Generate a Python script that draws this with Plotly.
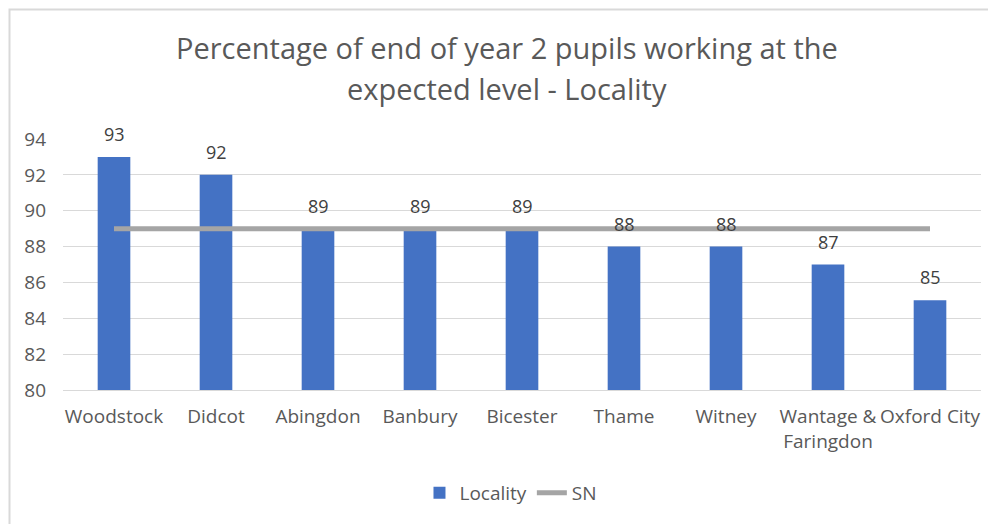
import plotly.graph_objects as go

categories = ["Woodstock", "Didcot", "Abingdon", "Banbury", "Bicester", "Thame", "Witney", "Wantage &<br>Faringdon", "Oxford City"]
locality = [93, 92, 89, 89, 89, 88, 88, 87, 85]
sn = [89, 89, 89, 89, 89, 89, 89, 89, 89]
y_ticks = [80, 82, 84, 86, 88, 90, 92, 94]

FONT = "Open Sans"
GREY_TXT = "#595959"

fig = go.Figure()
fig.add_trace(go.Bar(
    x=categories, y=locality, name="Locality",
    marker=dict(color="#4472c4", line=dict(width=0)),
))
fig.add_trace(go.Scatter(
    x=categories, y=sn, name="SN", mode="lines",
    line=dict(color="#a5a5a5", width=5),
))

label_annotations = [
    dict(x=c, y=v, xref="x", yref="y", text=str(v), showarrow=False,
         yshift=23, xanchor="center", yanchor="middle",
         font=dict(family=FONT, size=18, color="#404040"))
    for c, v in zip(categories, locality)
]

# page has an 8px body margin; compensate so the plot lands where the reference has it
fig.update_layout(
    width=996, height=524, autosize=False,
    paper_bgcolor="white", plot_bgcolor="white",
    margin=dict(l=55, r=23, t=131, b=142, autoexpand=False),
    bargap=0.68,
    font=dict(family=FONT, color=GREY_TXT),
    showlegend=True,
    legend=dict(orientation="h", x=0.488, xanchor="center", y=-0.41, yanchor="middle",
                font=dict(family=FONT, size=19, color=GREY_TXT), traceorder="normal",
                itemwidth=30),
    xaxis=dict(showgrid=False, showline=True, linecolor="#d9d9d9", linewidth=1,
               tickfont=dict(family=FONT, size=19, color=GREY_TXT), ticks="",
               ticklabelstandoff=9),
    yaxis=dict(range=[80, 94], tickvals=y_ticks, showgrid=True, gridcolor="#d9d9d9",
               gridwidth=1, zeroline=False, showline=False, ticks="",
               tickfont=dict(family=FONT, size=19, color=GREY_TXT),
               ticklabelstandoff=16),
    annotations=label_annotations + [
        dict(text="Percentage of end of year 2 pupils working at the", xref="paper", yref="paper",
             x=(507 - 63) / 918, y=(390 - 47) / 251, xanchor="center", yanchor="middle",
             showarrow=False, font=dict(family=FONT, size=29, color=GREY_TXT)),
        dict(text="expected level - Locality", xref="paper", yref="paper",
             x=(507 - 63) / 918, y=(390 - 89) / 251, xanchor="center", yanchor="middle",
             showarrow=False, font=dict(family=FONT, size=29, color=GREY_TXT)),
    ],
    shapes=[
        dict(type="rect", xref="paper", yref="paper",
             x0=(9.5 - 63) / 918, x1=(1010 - 63) / 918, y0=(390 - 540) / 251, y1=(390 - 9.5) / 251,
             line=dict(color="#d9d9d9", width=2), fillcolor="rgba(0,0,0,0)", layer="below"),
    ],
)

fig.write_html("out.html")
